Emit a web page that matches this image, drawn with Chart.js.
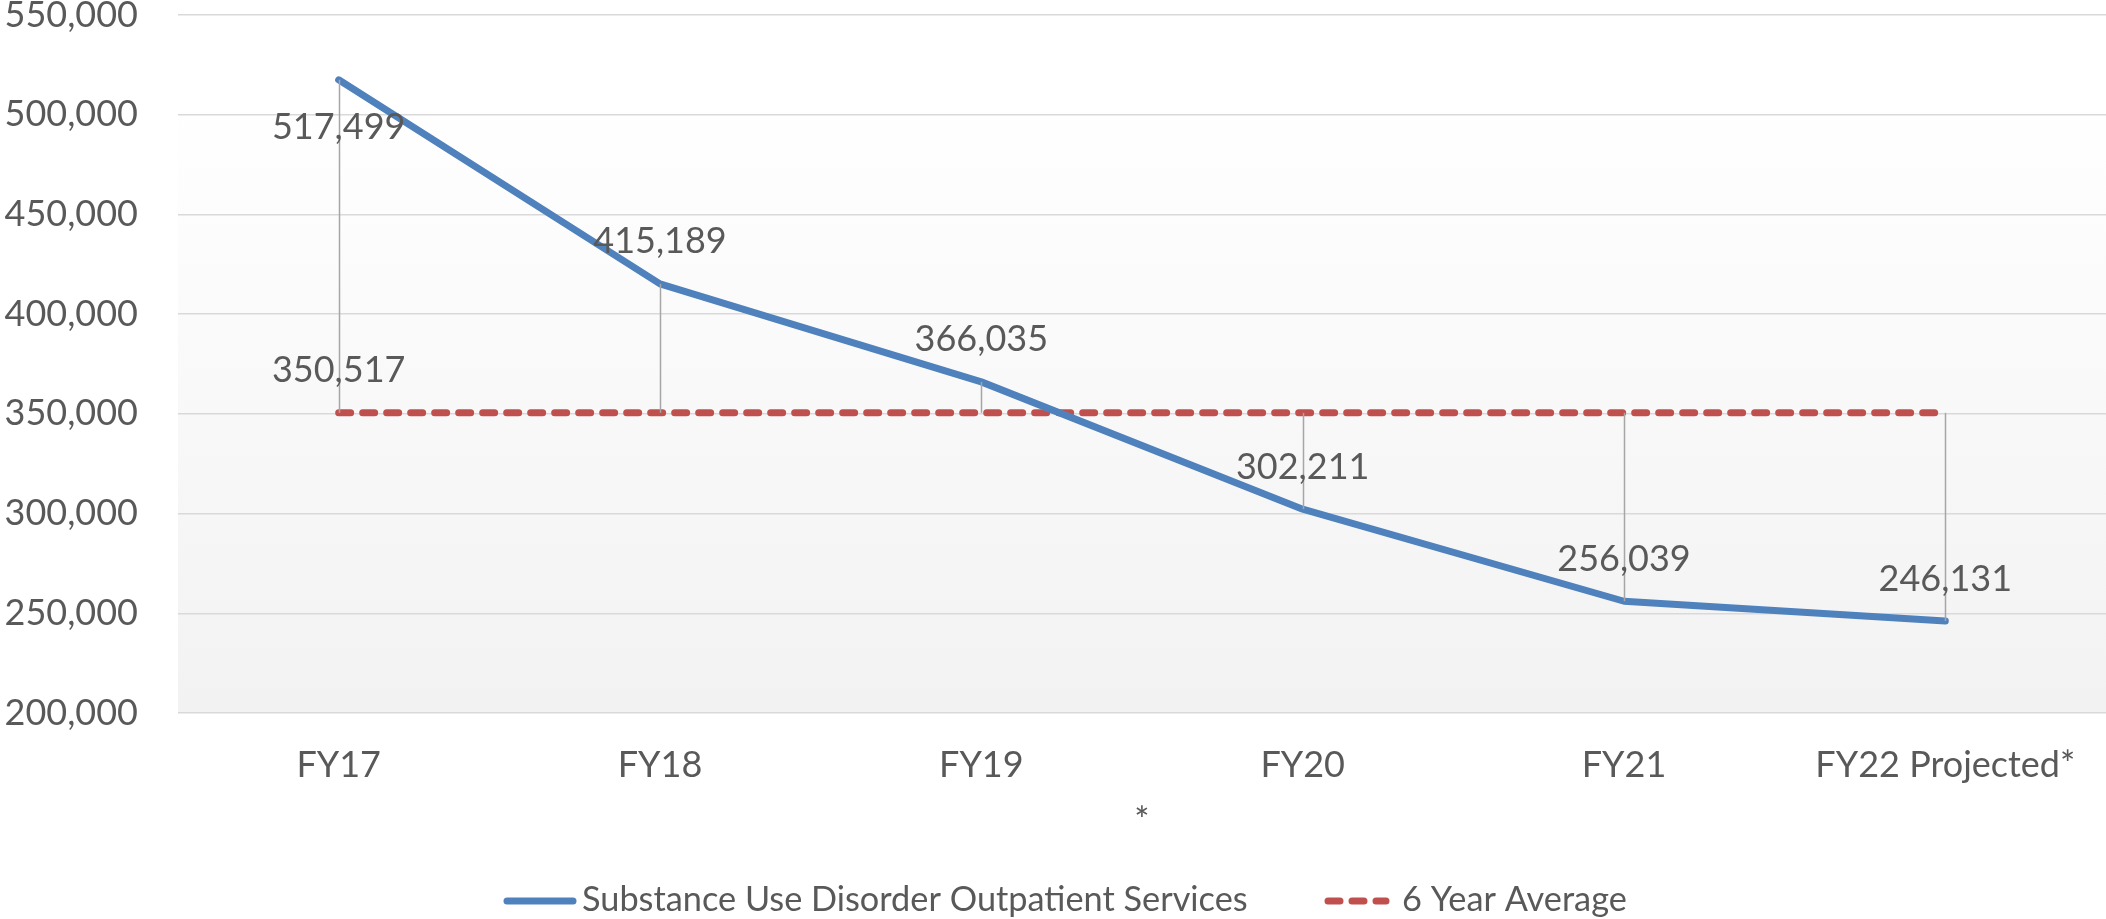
<!DOCTYPE html>
<html>
<head>
<meta charset="utf-8">
<script src="https://cdn.jsdelivr.net/npm/chart.js@4.4.1/dist/chart.umd.min.js"></script>
<style>
  html, body { margin: 0; padding: 0; background: #fff; }
  #wrap { width: 2106px; height: 919px; position: relative; }
</style>
</head>
<body>
<div id="wrap"><canvas id="chart"></canvas></div>
<script>
  const categories = ["FY17", "FY18", "FY19", "FY20", "FY21", "FY22 Projected*"];
  const outpatientServices = [517499, 415189, 366035, 302211, 256039, 246131];
  const sixYearAverage = [350517, 350517, 350517, 350517, 350517, 350517];
  const yTickValues = [200000, 250000, 300000, 350000, 400000, 450000, 500000, 550000];

  const FONT = "Lato";
  const TEXT = "#595959";
  const BLUE = "#4F81BD";
  const RED = "#C0504D";

  // plot area fill: white at top fading to light gray
  const plotBackground = {
    id: "plotBackground",
    beforeDraw(chart) {
      const { ctx, chartArea: a } = chart;
      const g = ctx.createLinearGradient(0, a.top, 0, a.bottom);
      g.addColorStop(0, "#ffffff");
      g.addColorStop(0.12, "#ffffff");
      g.addColorStop(1, "#f2f2f2");
      ctx.save();
      ctx.fillStyle = g;
      ctx.fillRect(a.left, a.top, a.right - a.left, a.bottom - a.top);
      ctx.restore();
    }
  };

  // gray high-low lines joining the two series at each category
  const hiLoLines = {
    id: "hiLoLines",
    afterDatasetsDraw(chart) {
      const ctx = chart.ctx;
      const p0 = chart.getDatasetMeta(0).data;
      const p1 = chart.getDatasetMeta(1).data;
      ctx.save();
      ctx.strokeStyle = "#a6a6a6";
      ctx.lineWidth = 1.5;
      p0.forEach((p, i) => {
        const x = Math.round(p.x) + 0.5;
        ctx.beginPath();
        ctx.moveTo(x, p.y);
        ctx.lineTo(x, p1[i].y);
        ctx.stroke();
      });
      ctx.restore();
    }
  };

  // value labels (Excel style, above the point unless flagged "below")
  const valueLabels = {
    id: "valueLabels",
    afterDraw(chart) {
      const ctx = chart.ctx;
      ctx.save();
      ctx.font = "36px " + FONT;
      ctx.fillStyle = TEXT;
      ctx.textAlign = "center";
      ctx.textBaseline = "middle";
      chart.data.datasets.forEach((ds, di) => {
        const meta = chart.getDatasetMeta(di);
        const show = ds.labelIndexes || ds.data.map((_, i) => i);
        show.forEach(i => {
          const pt = meta.data[i];
          const below = (ds.labelsBelow || []).includes(i);
          ctx.fillText(ds.data[i].toLocaleString("en-US"), pt.x, pt.y + (below ? 48 : -42));
        });
      });
      ctx.restore();
    }
  };

  // legend drawn by hand so line samples and gaps match the original
  const bottomLegend = {
    id: "bottomLegend",
    afterDraw(chart) {
      const ctx = chart.ctx;
      const y = 901;
      ctx.save();
      ctx.lineCap = "round";
      ctx.strokeStyle = BLUE;
      ctx.lineWidth = 7;
      ctx.beginPath(); ctx.moveTo(507, y); ctx.lineTo(573, y); ctx.stroke();
      ctx.strokeStyle = RED;
      ctx.lineWidth = 7;
      ctx.setLineDash([12, 12]);
      ctx.beginPath(); ctx.moveTo(1328, y); ctx.lineTo(1386, y); ctx.stroke();
      ctx.setLineDash([]);
      ctx.font = "34.3px " + FONT;
      ctx.fillStyle = TEXT;
      ctx.textAlign = "left";
      ctx.textBaseline = "middle";
      ctx.fillText(chart.data.datasets[0].label, 582, y - 1);
      ctx.fillText(chart.data.datasets[1].label, 1402, y - 1);
      ctx.restore();
    }
  };

  new Chart(document.getElementById("chart"), {
    type: "line",
    data: {
      labels: categories,
      datasets: [
        {
          label: "Substance Use Disorder Outpatient Services",
          data: outpatientServices,
          borderColor: BLUE,
          backgroundColor: BLUE,
          borderWidth: 7,
          borderCapStyle: "round",
          borderJoinStyle: "round",
          pointRadius: 0,
          tension: 0,
          labelsBelow: [0]
        },
        {
          label: "6 Year Average",
          data: sixYearAverage,
          borderColor: RED,
          backgroundColor: RED,
          borderWidth: 7,
          borderDash: [12, 12],
          borderCapStyle: "round",
          pointRadius: 0,
          tension: 0,
          labelIndexes: [0]
        }
      ]
    },
    options: {
      responsive: true,
      maintainAspectRatio: false,
      animation: false,
      layout: { padding: { top: 15, left: 0, right: 0, bottom: 76 } },
      plugins: {
        legend: { display: false },
        tooltip: { enabled: false }
      },
      scales: {
        x: {
          offset: true,
          grid: { display: false },
          border: { display: false },
          ticks: { font: { family: FONT, size: 36 }, color: TEXT, padding: 23, maxRotation: 0 },
          title: { display: true, text: "*", font: { family: FONT, size: 36 }, color: TEXT, padding: { top: 0, bottom: 0 } },
          afterFit: s => { s.height = 130; }
        },
        y: {
          min: 200000,
          max: 550000,
          afterBuildTicks: s => { s.ticks = yTickValues.map(v => ({ value: v })); },
          grid: { color: "#d9d9d9", lineWidth: 1.5, drawTicks: true, tickLength: 40, tickColor: "rgba(0,0,0,0)" },
          border: { display: false },
          ticks: {
            font: { family: FONT, size: 36, lineHeight: 0.8 },
            color: TEXT,
            padding: 0,
            callback: v => v.toLocaleString("en-US")
          },
          afterFit: s => { s.width = 178; }
        }
      }
    },
    plugins: [plotBackground, hiLoLines, valueLabels, bottomLegend]
  });
</script>
</body>
</html>
